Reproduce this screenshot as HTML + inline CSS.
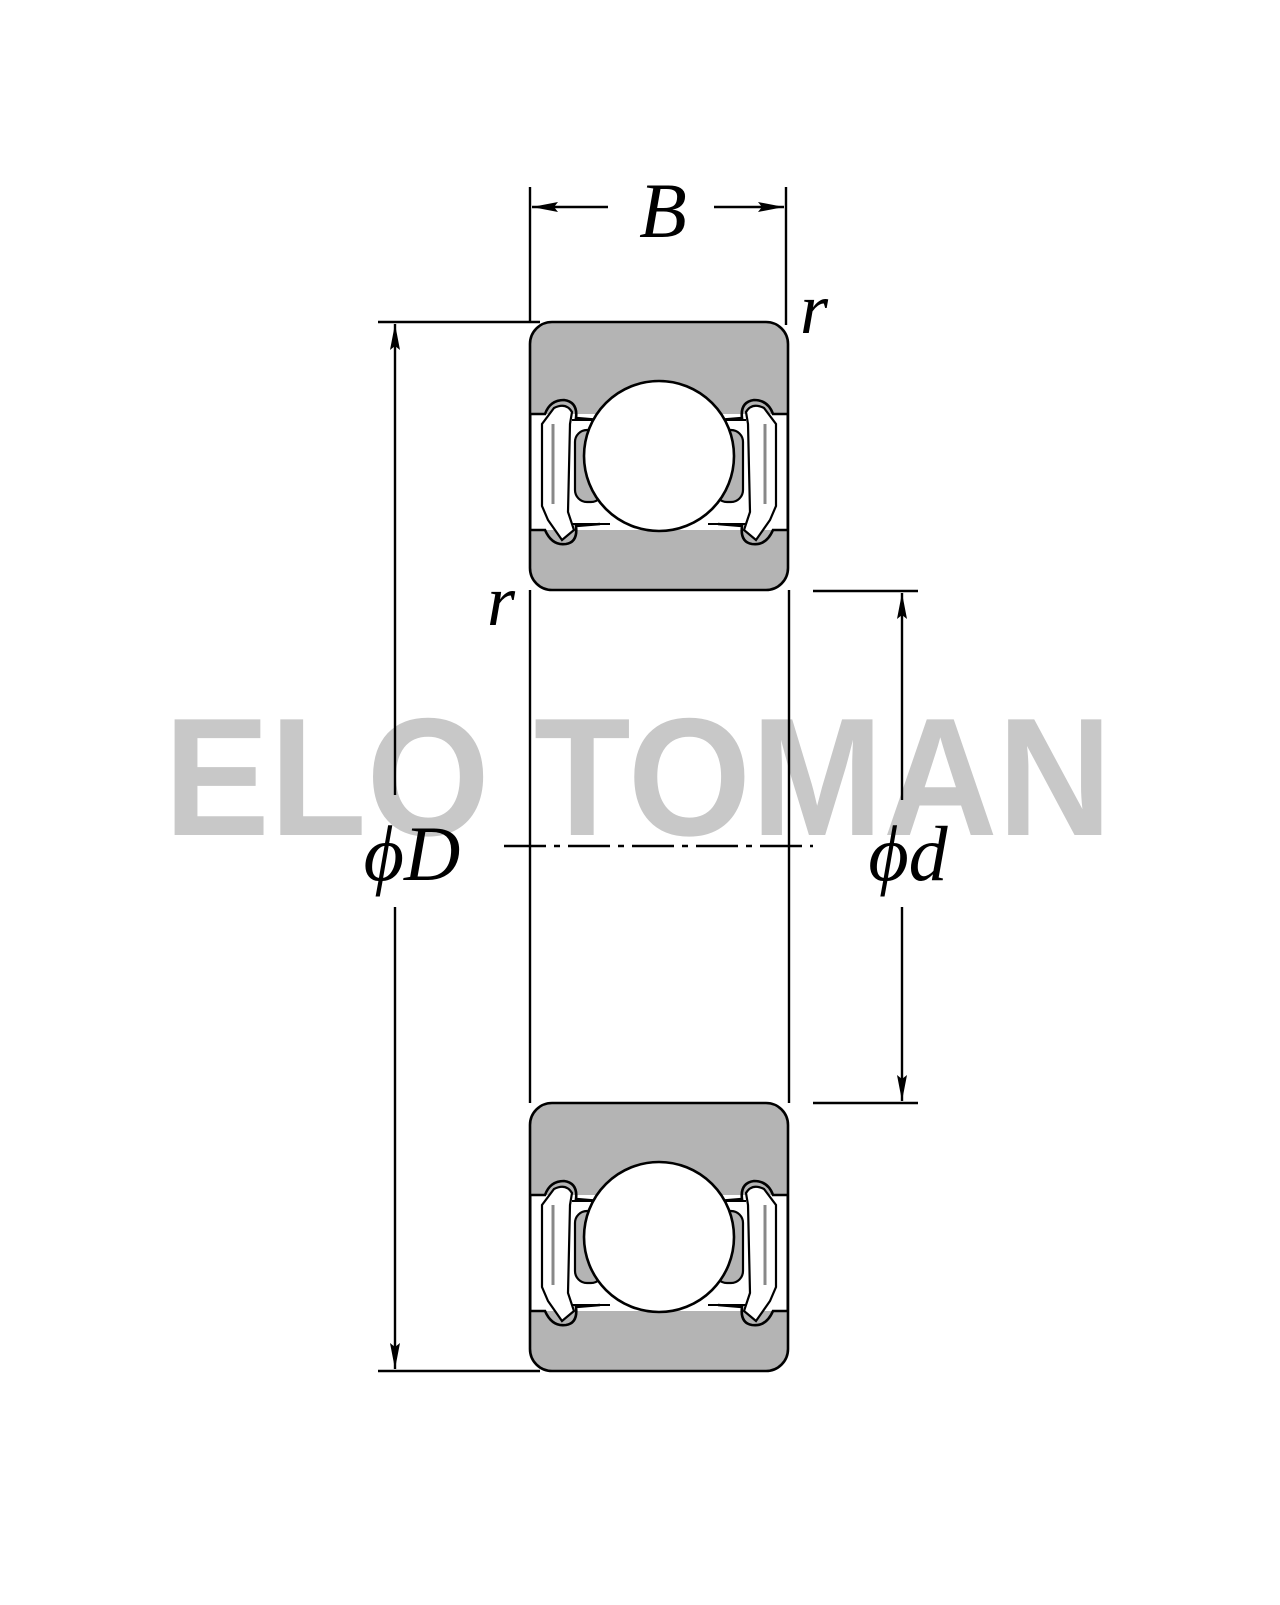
<!DOCTYPE html>
<html><head><style>html,body{margin:0;padding:0;background:#fff}</style></head>
<body>
<svg width="1280" height="1600" viewBox="0 0 1280 1600" xmlns="http://www.w3.org/2000/svg">
<defs>
<marker id="ar" viewBox="0 0 26 10" refX="26" refY="5" markerWidth="26" markerHeight="10" markerUnits="userSpaceOnUse" orient="auto-start-reverse">
<path d="M0,0 L26,5 L0,10 L4,5 Z" fill="#000"/></marker>
<g id="brg">
<rect x="530" y="0" width="258" height="268" rx="22" fill="#b4b4b4" stroke="#000" stroke-width="2.6"/>
<rect x="532" y="92" width="254" height="116" fill="#fff"/>
<path d="M531,92 L545,92 Q550,78 564,78 Q578,80 576,96 L600,98 M718,98 L742,96 Q740,80 754,78 Q768,78 773,92 L787,92" fill="none" stroke="#000" stroke-width="2.6"/>
<path d="M531,208 L545,208 Q552,224 566,222 Q578,220 576,204 L600,202 M718,202 L742,204 Q740,220 752,222 Q766,224 773,208 L787,208" fill="none" stroke="#000" stroke-width="2.6"/>
<path d="M554,86 Q566,80 572,90 L570,102 L568,190 L574,208 L562,218 L548,198 L542,184 L542,102 Z" fill="#fff" stroke="#000" stroke-width="2.2"/>
<path d="M764,86 Q752,80 746,90 L748,102 L750,190 L744,208 L756,218 L770,198 L776,184 L776,102 Z" fill="#fff" stroke="#000" stroke-width="2.2"/>
<path d="M553,102 L553,182 M765,102 L765,182" stroke="#888" stroke-width="3"/>
<rect x="575" y="108" width="28" height="72" rx="12" fill="#b4b4b4" stroke="#000" stroke-width="2.2"/>
<rect x="715" y="108" width="28" height="72" rx="12" fill="#b4b4b4" stroke="#000" stroke-width="2.2"/>
<path d="M572,98 L610,98 M708,98 L746,98 M572,202 L610,202 M708,202 L746,202" stroke="#000" stroke-width="2"/>
<circle cx="659" cy="134" r="75" fill="#fff" stroke="#000" stroke-width="2.6"/>
</g>
</defs>
<text x="164" y="835" font-family="Liberation Sans, sans-serif" font-weight="bold" font-size="168" fill="#c8c8c8" textLength="948" lengthAdjust="spacingAndGlyphs">ELO TOMAN</text>
<use href="#brg" y="322"/>
<use href="#brg" y="1103"/>
<g stroke="#000" stroke-width="2.4" fill="none">
<line x1="530" y1="590" x2="530" y2="1103"/>
<line x1="789" y1="590" x2="789" y2="1103"/>
<line x1="530" y1="187" x2="530" y2="322"/>
<line x1="786" y1="187" x2="786" y2="325"/>
<line x1="532" y1="207" x2="608" y2="207" marker-start="url(#ar)"/>
<line x1="714" y1="207" x2="784" y2="207" marker-end="url(#ar)"/>
<line x1="378" y1="322" x2="540" y2="322"/>
<line x1="378" y1="1371" x2="540" y2="1371"/>
<line x1="395" y1="324" x2="395" y2="795" marker-start="url(#ar)"/>
<line x1="395" y1="907" x2="395" y2="1369" marker-end="url(#ar)"/>
<line x1="813" y1="591" x2="918" y2="591"/>
<line x1="813" y1="1103" x2="918" y2="1103"/>
<line x1="902" y1="593" x2="902" y2="800" marker-start="url(#ar)"/>
<line x1="902" y1="907" x2="902" y2="1101" marker-end="url(#ar)"/>
<line x1="504" y1="846" x2="813" y2="846" stroke-dasharray="42,8,6,8"/>
</g>
<g font-family="Liberation Serif, serif" font-style="italic" fill="#000">
<text x="663" y="237" font-size="78" text-anchor="middle">B</text>
<text x="800" y="333" font-size="72">r</text>
<text x="487" y="625" font-size="72">r</text>
<text x="412" y="880" font-size="78" text-anchor="middle">ϕD</text>
<text x="908" y="880" font-size="78" text-anchor="middle">ϕd</text>
</g>
</svg>
</body></html>
